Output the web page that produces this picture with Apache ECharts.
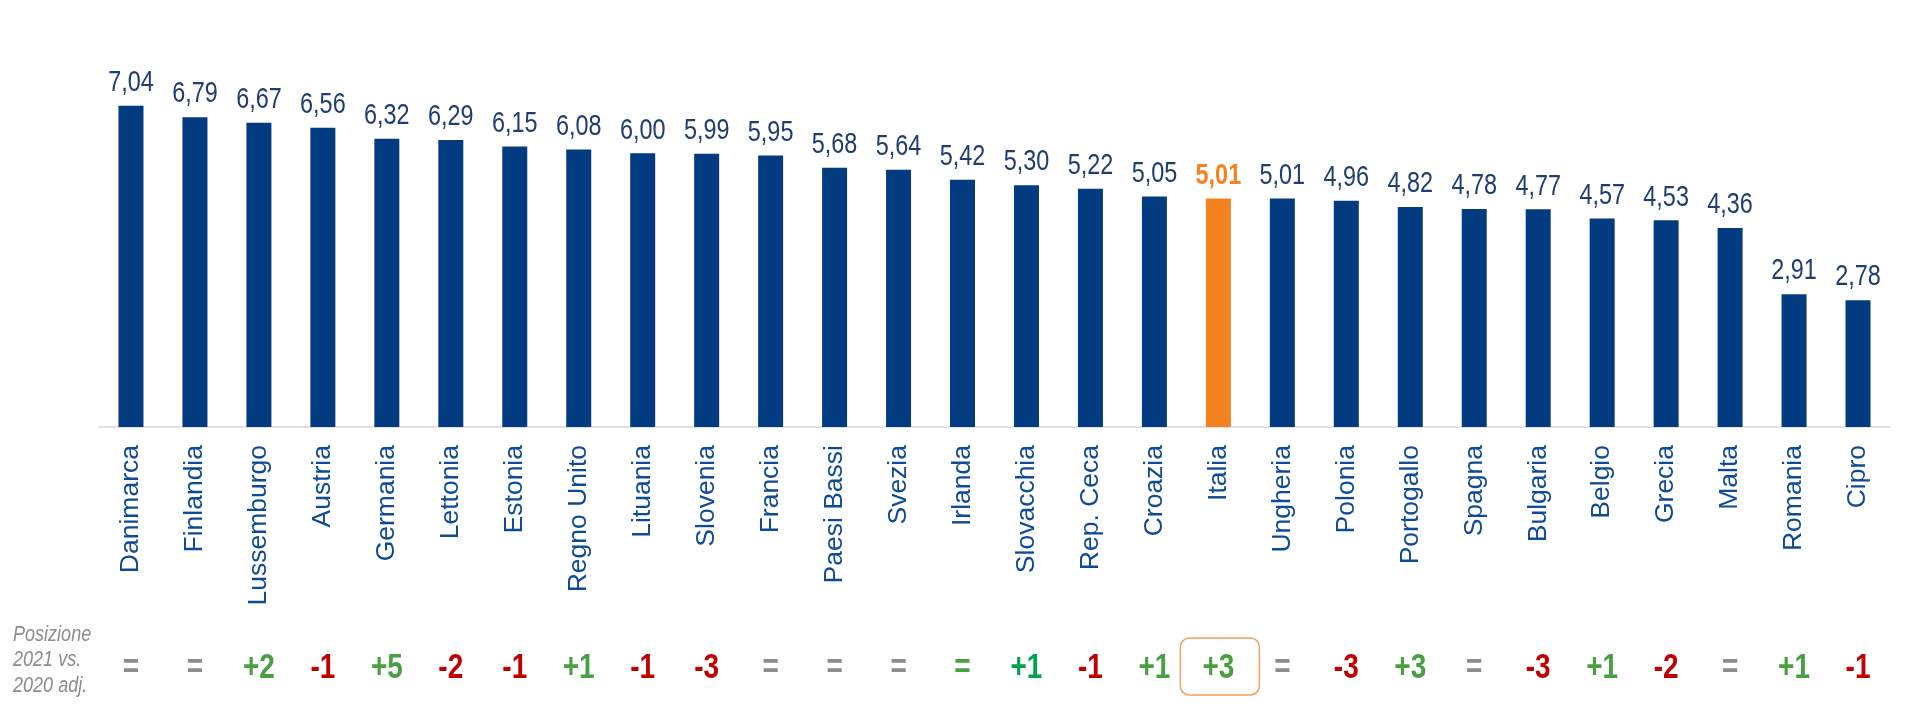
<!DOCTYPE html>
<html>
<head>
<meta charset="utf-8">
<script src="https://cdn.jsdelivr.net/npm/echarts@6/dist/echarts.min.js"></script>
<style>
html,body{margin:0;padding:0;background:#fff;}
#chart{width:1915px;height:721px;}
</style>
</head>
<body>
<div id="chart"></div>
<script>
// ---- data ----
const categories = ['Danimarca','Finlandia','Lussemburgo','Austria','Germania','Lettonia','Estonia','Regno Unito','Lituania','Slovenia','Francia','Paesi Bassi','Svezia','Irlanda','Slovacchia','Rep. Ceca','Croazia','Italia','Ungheria','Polonia','Portogallo','Spagna','Bulgaria','Belgio','Grecia','Malta','Romania','Cipro'];
const values = [7.04, 6.79, 6.67, 6.56, 6.32, 6.29, 6.15, 6.08, 6.00, 5.99, 5.95, 5.68, 5.64, 5.42, 5.30, 5.22, 5.05, 5.01, 5.01, 4.96, 4.82, 4.78, 4.77, 4.57, 4.53, 4.36, 2.91, 2.78];
const positionChange = ['=', '=', '+2', '-1', '+5', '-2', '-1', '+1', '-1', '-3', '=', '=', '=', '=', '+1', '-1', '+1', '+3', '=', '-3', '+3', '=', '-3', '+1', '-2', '=', '+1', '-1'];
const rowTitle = 'Posizione\n2021 vs.\n2020 adj.';
const highlight = 'Italia';

// ---- styles ----
const FONT = "'Liberation Sans', Arial, sans-serif";
const BAR = '#033b80';
const ORANGE = '#f58220';
const GREEN = '#4a9f43';
const BRIGHT = '#00a34d';
const RED = '#c00000';
const GREY = '#8c8c8c';
const NARROW_SCALE = 0.78;

function toneColor(idx) {
  const cat = categories[idx];
  const v = positionChange[idx];
  if (cat === 'Slovacchia') return BRIGHT;
  if (cat === 'Irlanda') return GREEN;
  if (v[0] === '+') return GREEN;
  if (v[0] === '-') return RED;
  return GREY;
}
function fmt(v) { return v.toFixed(2).replace('.', ','); }

const chart = echarts.init(document.getElementById('chart'), null, {renderer: 'canvas'});
chart.setOption({
  animation: false,
  backgroundColor: '#ffffff',
  grid: {left: 99, right: 25, top: 62, bottom: 294, containLabel: false},
  xAxis: {
    type: 'category',
    data: categories,
    axisLine: {lineStyle: {color: '#d9d9d9', width: 1.5}},
    axisTick: {show: false},
    axisLabel: {
      interval: 0, rotate: 90, margin: 18,
      fontFamily: FONT, fontSize: 26.5, color: '#0f4a94'
    }
  },
  yAxis: {type: 'value', min: 0, max: 8, show: false},
  graphic: [{
    type: 'text', left: 13, top: 622, scaleX: 0.82,
    style: {text: rowTitle, fontFamily: FONT, fontStyle: 'italic', fontSize: 22, lineHeight: 25.5, fill: GREY}
  }],
  series: [
    {
      type: 'bar',
      barWidth: 25,
      data: values.map(function (v, i) {
        return {value: v, itemStyle: {color: categories[i] === highlight ? ORANGE : BAR}};
      })
    },
    {
      // value labels above bars (narrow type)
      type: 'custom',
      z: 5,
      data: values.map(function (v, i) { return [i, v]; }),
      renderItem: function (params, api) {
        const i = api.value(0);
        const p = api.coord([i, api.value(1)]);
        const hi = categories[i] === highlight;
        return {
          type: 'text', x: p[0], y: p[1] - 8, scaleX: NARROW_SCALE,
          style: {
            text: fmt(api.value(1)), fontFamily: FONT, fontSize: 30,
            fontWeight: hi ? 'bold' : 'normal',
            fill: hi ? ORANGE : '#1f3d6e', align: 'center', verticalAlign: 'bottom'
          }
        };
      }
    },
    {
      // ranking change row below the axis
      type: 'custom',
      z: 5,
      data: categories.map(function (c, i) { return [i, 0]; }),
      renderItem: function (params, api) {
        const i = api.value(0);
        const p = api.coord([i, 0]);
        const y = p[1] + 241;
        const children = [];
        if (categories[i] === highlight) {
          children.push({
            type: 'rect',
            shape: {x: p[0] - 38, y: y - 30, width: 79, height: 57, r: 9},
            style: {fill: 'none', stroke: '#f0a060', lineWidth: 1.5}
          });
        }
        children.push({
          type: 'text', x: p[0], y: y, scaleX: 0.8,
          style: {
            text: positionChange[i], fontFamily: FONT, fontWeight: 'bold', fontSize: 35,
            fill: toneColor(i), align: 'center', verticalAlign: 'middle'
          }
        });
        return {type: 'group', children: children};
      }
    }
  ]
});
</script>
</body>
</html>
